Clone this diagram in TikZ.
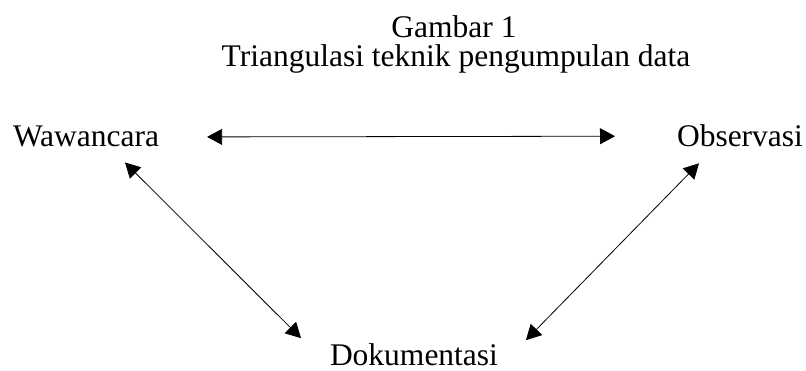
\documentclass[tikz,border=0pt]{standalone}
\usepackage{fontspec}
\setmainfont{Liberation Serif}
\usetikzlibrary{arrows.meta,calc}
\begin{document}
\begin{tikzpicture}[x=1pt,y=-1pt,
  lbl/.style={inner sep=0pt,outer sep=0pt,font=\fontsize{31.5}{37}\selectfont},
  conn/.style={line width=0.8pt,{Triangle[length=15pt,width=16pt]}-{Triangle[length=15pt,width=16pt]}}]
\useasboundingbox[fill=white] (0,0) rectangle (806,371);
\node[lbl,anchor=base] (g) at (454,38) {Gambar 1};
\node[lbl,anchor=base] (t) at (456,67) {Triangulasi teknik pengumpulan data};
\node[lbl,anchor=base west] (w) at (13,147) {Wawancara};
\node[lbl,anchor=base west] (o) at (677,147) {Observasi};
\node[lbl,anchor=base west] (d) at (330,365) {Dokumentasi};
\draw[conn] ($(w.east)+(48,0)$) -- ($(o.west)+(-62,0)$);
\draw[conn] ($(w.south west)+(112,15)$) -- ($(d.north west)+(-29,-5)$);
\draw[conn] ($(o.south west)+(22,16)$) -- ($(d.north east)+(28,-3)$);
\end{tikzpicture}
\end{document}
